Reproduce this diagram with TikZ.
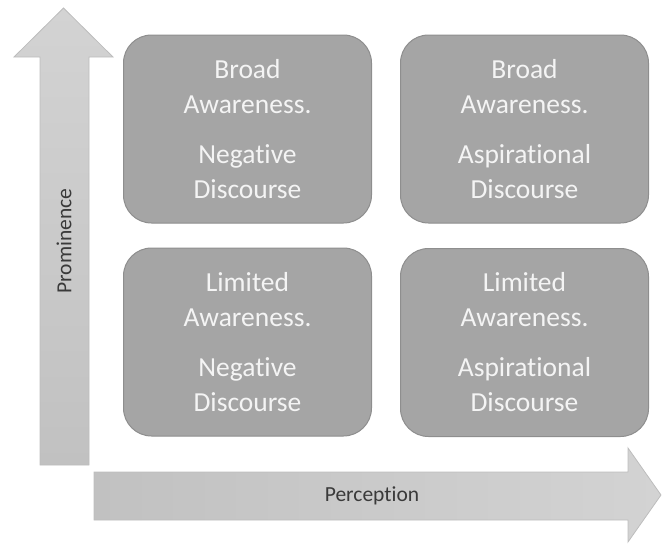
\documentclass[tikz,border=0pt]{standalone}
\usepackage{fontspec}
\setmainfont[Ligatures=NoCommon]{Carlito}
\definecolor{boxfill}{HTML}{A5A5A5}
\definecolor{boxline}{HTML}{8E8E8E}
\definecolor{boxtext}{HTML}{F4F4F4}
\definecolor{arrowline}{HTML}{BDBDBD}
\definecolor{arrowlight}{HTML}{D3D3D3}
\definecolor{arrowdark}{HTML}{C1C1C1}
\definecolor{labeltext}{HTML}{3A3A3A}
\begin{document}
\begin{tikzpicture}[x=1pt,y=-1pt,
  quad/.style={draw=boxline, fill=boxfill, line width=1pt, rounded corners=28pt,
    minimum width=248pt, minimum height=188pt, inner sep=0pt,
    text=boxtext, align=center, font=\fontsize{27.5}{35}\selectfont},
  axisarrow/.style={draw=arrowline, line width=0.8pt},
  axislabel/.style={text=labeltext, font=\fontsize{21.5}{24}\selectfont, inner sep=0pt}]
\useasboundingbox (0,0) rectangle (662,544);
% vertical axis arrow
\path[axisarrow, top color=arrowlight, bottom color=arrowdark]
  (40,465) -- (40,57) -- (14,57) -- (63.5,8) -- (113,57) -- (89,57) -- (89,465) -- cycle;
% horizontal axis arrow
\path[axisarrow, left color=arrowdark, right color=arrowlight]
  (94,472) -- (628,472) -- (628,448) -- (661,495) -- (628,542) -- (628,520) -- (94,520) -- cycle;
\node[axislabel, rotate=90] (prom) at (64,241) {Prominence};
\node[axislabel] (perc) at (372,496) {Perception};
% quadrants
\node[quad] (tl) at (247.5,129) {Broad\\Awareness.\\[15pt]Negative\\Discourse};
\node[quad] (tr) at (524.5,129) {Broad\\Awareness.\\[15pt]Aspirational\\Discourse};
\node[quad] (bl) at (247.5,342) {Limited\\Awareness.\\[15pt]Negative\\Discourse};
\node[quad] (br) at (524.5,342.5) {Limited\\Awareness.\\[15pt]Aspirational\\Discourse};
\end{tikzpicture}
\end{document}
